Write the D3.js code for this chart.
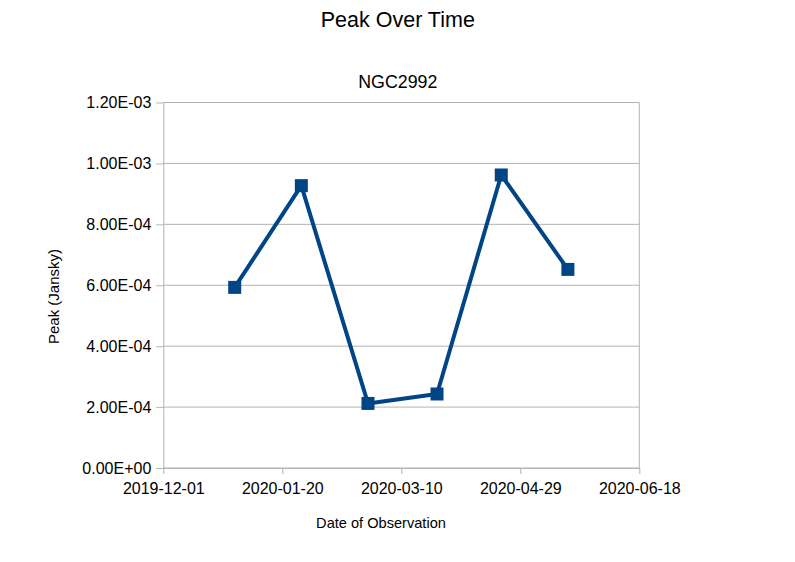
<!DOCTYPE html>
<html>
<head>
<meta charset="utf-8">
<script src="https://cdn.jsdelivr.net/npm/d3@7"></script>
<style>
  body { margin: 0; background: #fff; }
  text { font-family: "Liberation Sans", Arial, sans-serif; fill: #000; }
</style>
</head>
<body>
<script>
// data
var dates = ["2019-12-31", "2020-01-28", "2020-02-25", "2020-03-25", "2020-04-21", "2020-05-19"];
var peaks = [5.93e-4, 9.27e-4, 2.12e-4, 2.43e-4, 9.62e-4, 6.52e-4];
var xTicks = ["2019-12-01", "2020-01-20", "2020-03-10", "2020-04-29", "2020-06-18"];
var yTicks = [0, 2e-4, 4e-4, 6e-4, 8e-4, 1e-3, 1.2e-3];

(function(){
   var width = 795, height = 562;
   var left = 163.3, right = 639.3, top = 102.5, bottom = 468;
   var parse = d3.utcParse("%Y-%m-%d");
   var fmtDate = d3.utcFormat("%Y-%m-%d");

   function sci(v){
       var s = v.toExponential(2).split("e");
       var e = parseInt(s[1], 10);
       var sign = e < 0 ? "-" : "+";
       var a = Math.abs(e);
       return s[0] + "E" + sign + (a < 10 ? "0" + a : a);
   }

   var data = dates.map(function(d, i){ return {date: parse(d), peak: peaks[i]}; });

   var x = d3.scaleUtc()
       .domain([parse(xTicks[0]), parse(xTicks[xTicks.length - 1])])
       .range([left, right]);
   var y = d3.scaleLinear()
       .domain([0, 1.2e-3])
       .range([bottom, top]);

   var svg = d3.select("body").append("svg")
       .attr("width", width)
       .attr("height", height);

   // grid
   svg.append("g").selectAll("line")
       .data(yTicks)
       .enter().append("line")
       .attr("x1", left).attr("x2", right)
       .attr("y1", function(d){ return y(d); })
       .attr("y2", function(d){ return y(d); })
       .attr("stroke", "#b3b3b3")
       .attr("stroke-width", 1);

   svg.append("line")
       .attr("x1", right).attr("x2", right)
       .attr("y1", top).attr("y2", bottom)
       .attr("stroke", "#b3b3b3");

   // axes
   var xAxis = d3.axisBottom(x)
       .tickValues(xTicks.map(parse))
       .tickFormat(fmtDate)
       .tickSizeInner(6).tickSizeOuter(0).tickPadding(9);
   var gx = svg.append("g")
       .attr("transform", "translate(0," + bottom + ")")
       .call(xAxis);
   gx.select(".domain").attr("stroke", "#b3b3b3");
   gx.selectAll(".tick line").attr("stroke", "#b3b3b3");
   gx.selectAll(".tick text")
       .style("font-family", "Liberation Sans, Arial, sans-serif")
       .style("font-size", "16px")
       .attr("fill", "#000");

   var yAxis = d3.axisLeft(y)
       .tickValues(yTicks)
       .tickFormat(sci)
       .tickSizeInner(7).tickSizeOuter(0).tickPadding(5);
   var gy = svg.append("g")
       .attr("transform", "translate(" + left + ",0)")
       .call(yAxis);
   gy.select(".domain").attr("stroke", "#b3b3b3");
   gy.selectAll(".tick line").attr("stroke", "#b3b3b3");
   gy.selectAll(".tick text")
       .style("font-family", "Liberation Sans, Arial, sans-serif")
       .style("font-size", "16px")
       .attr("fill", "#000");

   // line and markers
   var line = d3.line()
       .x(function(d){ return x(d.date); })
       .y(function(d){ return y(d.peak); })
       .curve(d3.curveLinear);

   svg.append("path")
       .attr("d", line(data))
       .attr("fill", "none")
       .attr("stroke", "#004586")
       .attr("stroke-width", 4)
       .attr("stroke-linejoin", "round");

   var ms = 13;
   svg.append("g").selectAll("rect")
       .data(data)
       .enter().append("rect")
       .attr("x", function(d){ return x(d.date) - ms / 2; })
       .attr("y", function(d){ return y(d.peak) - ms / 2; })
       .attr("width", ms).attr("height", ms)
       .attr("fill", "#004586");

   // titles
   svg.append("text")
       .attr("x", 397.8).attr("y", 27)
       .attr("text-anchor", "middle")
       .style("font-size", "21.5px")
       .text("Peak Over Time");

   svg.append("text")
       .attr("x", 397.8).attr("y", 88)
       .attr("text-anchor", "middle")
       .style("font-size", "17.8px")
       .text("NGC2992");

   svg.append("text")
       .attr("x", 381).attr("y", 528)
       .attr("text-anchor", "middle")
       .style("font-size", "14.6px")
       .text("Date of Observation");

   svg.append("text")
       .attr("transform", "translate(58.5,296.5) rotate(-90)")
       .attr("text-anchor", "middle")
       .style("font-size", "15px")
       .text("Peak (Jansky)");
})();
</script>
</body>
</html>
